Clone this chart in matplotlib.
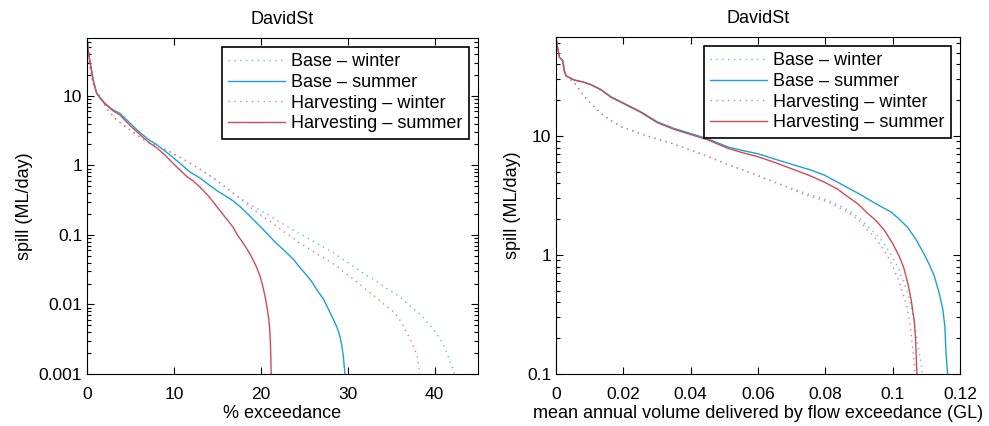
import matplotlib
matplotlib.use("Agg")
import matplotlib.pyplot as plt
import numpy as np
from matplotlib.ticker import LogLocator, NullFormatter

plt.rcParams['font.family'] = ['Liberation Sans', 'DejaVu Sans']
plt.rcParams['font.size'] = 12

# ---- Left panel: % exceedance vs spill ----
base_summer_x = [0, 0.15, 0.3, 0.5, 0.7, 1.1, 1.5, 2.0, 2.5, 3.0, 3.8, 4.5, 5.0, 5.8, 6.5, 7.2, 8.0, 9.0, 9.9, 10.8, 11.8, 13.0, 14.0, 15.0, 16.0, 16.8, 17.7, 18.5, 19.5, 20.7, 21.6, 22.5, 23.2, 23.8, 24.5, 25.2, 25.9, 26.5, 27.2, 27.8, 28.3, 28.8, 29.1, 29.3, 29.5, 29.6, 29.7]
base_summer_y = [68, 45, 33, 24, 17, 11, 9.5, 8.0, 7.0, 6.3, 5.6, 4.6, 4.0, 3.2, 2.7, 2.3, 2.0, 1.6, 1.3, 1.05, 0.81, 0.66, 0.53, 0.43, 0.36, 0.31, 0.25, 0.2, 0.15, 0.106, 0.08, 0.063, 0.052, 0.044, 0.034, 0.027, 0.021, 0.016, 0.012, 0.0085, 0.0063, 0.0046, 0.0035, 0.0027, 0.0018, 0.0013, 0.001]

harv_summer_x = [0, 0.15, 0.3, 0.5, 0.7, 1.1, 1.5, 2.0, 2.5, 3.0, 3.8, 4.5, 5.0, 5.8, 6.5, 7.2, 8.0, 9.0, 9.9, 10.7, 11.5, 12.2, 13.0, 14.0, 14.9, 15.9, 16.8, 17.3, 17.8, 18.3, 18.8, 19.4, 19.9, 20.2, 20.5, 20.7, 20.9, 21.0, 21.1, 21.15, 21.2]
harv_summer_y = [68, 45, 33, 24, 17, 11, 9.3, 7.8, 6.9, 6.1, 5.3, 4.3, 3.7, 3.0, 2.5, 2.1, 1.8, 1.4, 1.07, 0.86, 0.69, 0.6, 0.49, 0.36, 0.26, 0.18, 0.13, 0.1, 0.082, 0.066, 0.052, 0.037, 0.026, 0.019, 0.013, 0.0093, 0.0065, 0.0048, 0.003, 0.0018, 0.001]

base_winter_x = [0, 0.15, 0.3, 0.5, 0.7, 1.0, 1.5, 2.0, 2.5, 3.4, 4.2, 5.0, 5.8, 6.5, 7.2, 8.0, 9.2, 10.0, 11.0, 12.0, 13.0, 14.0, 15.0, 16.0, 16.8, 17.8, 18.8, 19.8, 20.7, 21.6, 22.5, 23.5, 24.5, 25.5, 26.5, 27.5, 28.4, 29.3, 30.3, 31.3, 32.2, 33.2, 34.2, 35.2, 36.1, 36.8, 37.5, 38.2, 38.8, 39.3, 39.8, 40.3, 40.7, 41.1, 41.5, 41.8, 42.1, 42.3]
base_winter_y = [68, 42, 28, 20, 15, 12, 9.7, 7.5, 6.0, 4.5, 3.8, 3.2, 2.7, 2.35, 2.1, 1.9, 1.66, 1.45, 1.25, 1.05, 0.88, 0.73, 0.6, 0.48, 0.4, 0.33, 0.27, 0.23, 0.2, 0.17, 0.145, 0.123, 0.104, 0.088, 0.075, 0.064, 0.055, 0.046, 0.038, 0.031, 0.026, 0.022, 0.018, 0.015, 0.0125, 0.0105, 0.0088, 0.0075, 0.0063, 0.0053, 0.0045, 0.0037, 0.0031, 0.0025, 0.0019, 0.0015, 0.0012, 0.001]

harv_winter_x = [0, 0.15, 0.3, 0.5, 0.7, 1.0, 1.5, 2.0, 2.5, 3.4, 4.2, 5.0, 5.8, 6.5, 7.2, 8.0, 9.2, 10.0, 11.0, 12.0, 13.0, 14.0, 15.0, 16.0, 16.8, 17.8, 18.8, 19.8, 20.7, 21.6, 22.5, 23.5, 24.5, 25.5, 26.5, 27.5, 28.4, 29.3, 30.3, 31.3, 32.2, 33.0, 33.8, 34.6, 35.4, 35.8, 36.2, 36.5, 36.8, 37.2, 37.5, 37.8, 38.0, 38.1, 38.2, 38.3]
harv_winter_y = [68, 42, 28, 20, 15, 12, 9.7, 7.5, 6.0, 4.5, 3.8, 3.2, 2.7, 2.35, 2.1, 1.9, 1.66, 1.45, 1.25, 1.05, 0.88, 0.73, 0.6, 0.48, 0.4, 0.32, 0.25, 0.2, 0.17, 0.14, 0.115, 0.095, 0.076, 0.064, 0.053, 0.045, 0.038, 0.031, 0.025, 0.02, 0.016, 0.0135, 0.011, 0.0092, 0.0076, 0.0065, 0.0055, 0.0046, 0.0039, 0.0032, 0.0026, 0.0021, 0.0018, 0.0015, 0.0012, 0.001]

# ---- Right panel: mean annual volume vs spill ----
rb_summer_x = [0, 0.0005, 0.001, 0.002, 0.0025, 0.003, 0.0055, 0.008, 0.0104, 0.0134, 0.0163, 0.0203, 0.0252, 0.030, 0.035, 0.040, 0.045, 0.051, 0.055, 0.060, 0.065, 0.0708, 0.0755, 0.0797, 0.085, 0.0906, 0.0950, 0.0995, 0.1020, 0.1045, 0.107, 0.1090, 0.1110, 0.1124, 0.1138, 0.1149, 0.1155, 0.1158, 0.1161, 0.1163]
rb_summer_y = [68, 55, 46, 43, 35, 32, 29.5, 28.5, 27, 24.6, 21.4, 18.8, 16, 13.2, 11.6, 10.5, 9.5, 8.1, 7.6, 7.1, 6.4, 5.7, 5.2, 4.7, 3.9, 3.2, 2.7, 2.3, 2.0, 1.7, 1.34, 1.06, 0.82, 0.66, 0.48, 0.35, 0.25, 0.16, 0.12, 0.1]

rh_summer_x = [0, 0.0005, 0.001, 0.002, 0.0025, 0.003, 0.0055, 0.008, 0.0104, 0.0134, 0.0163, 0.0203, 0.0252, 0.030, 0.035, 0.040, 0.045, 0.051, 0.055, 0.060, 0.065, 0.0708, 0.075, 0.0797, 0.0835, 0.0866, 0.0896, 0.0926, 0.0950, 0.0975, 0.1000, 0.102, 0.1033, 0.1045, 0.1055, 0.1064, 0.1068, 0.1070, 0.1072]
rh_summer_y = [68, 55, 46, 43, 35, 32, 29.5, 28.5, 27, 24.4, 21.2, 18.6, 15.8, 13.0, 11.4, 10.3, 9.3, 7.9, 7.3, 6.7, 6.0, 5.2, 4.7, 4.1, 3.6, 3.1, 2.7, 2.24, 1.95, 1.62, 1.25, 0.97, 0.78, 0.58, 0.42, 0.28, 0.2, 0.14, 0.1]

rb_winter_x = [0, 0.0005, 0.001, 0.002, 0.0025, 0.003, 0.0055, 0.0084, 0.011, 0.0134, 0.0163, 0.0193, 0.0262, 0.0342, 0.043, 0.053, 0.058, 0.0629, 0.068, 0.0728, 0.0807, 0.0866, 0.090, 0.0926, 0.095, 0.0975, 0.0995, 0.1015, 0.1030, 0.1045, 0.1055, 0.1064, 0.1072, 0.1079, 0.1085, 0.1088]
rb_winter_y = [68, 55, 46, 43, 35, 32, 28, 21.5, 18, 15.5, 13.5, 12, 10.2, 8.7, 7.1, 5.5, 4.9, 4.3, 3.8, 3.4, 2.9, 2.4, 2.05, 1.74, 1.5, 1.25, 1.0, 0.8, 0.62, 0.48, 0.37, 0.28, 0.2, 0.15, 0.12, 0.1]

rh_winter_x = [0, 0.0005, 0.001, 0.002, 0.0025, 0.003, 0.0055, 0.0084, 0.011, 0.0134, 0.0163, 0.0193, 0.0262, 0.0342, 0.043, 0.053, 0.058, 0.0629, 0.068, 0.0728, 0.0807, 0.0866, 0.0895, 0.0920, 0.0945, 0.0965, 0.0985, 0.1000, 0.1017, 0.1030, 0.1042, 0.1050, 0.1056, 0.1060, 0.1064, 0.1066]
rh_winter_y = [68, 55, 46, 43, 35, 32, 28, 21.5, 18, 15.5, 13.5, 12, 10.2, 8.7, 7.1, 5.5, 4.9, 4.3, 3.8, 3.3, 2.8, 2.3, 2.0, 1.7, 1.43, 1.2, 0.98, 0.8, 0.62, 0.48, 0.37, 0.28, 0.2, 0.16, 0.12, 0.1]

labels = ['Base \u2013 winter', 'Base \u2013 summer', 'Harvesting \u2013 winter', 'Harvesting \u2013 summer']
left_xticks = [0, 10, 20, 30, 40]
left_yticks = [0.001, 0.01, 0.1, 1, 10]
left_yticklabels = ['0.001', '0.01', '0.1', '1', '10']
right_xticks = [0, 0.02, 0.04, 0.06, 0.08, 0.1, 0.12]
right_xticklabels = ['0', '0.02', '0.04', '0.06', '0.08', '0.1', '0.12']
right_yticks = [0.1, 1, 10]
right_yticklabels = ['0.1', '1', '10']

BLUE = '#1aa0d8'
RED = '#d04a55'
BLUE_L = '#5cc0e8'
RED_L = '#e07f88'

fig = plt.figure(figsize=(9.89, 4.26), dpi=100)
axL = fig.add_axes([87/989, 1 - 374/426, (478-87)/989, (374-38)/426])
axR = fig.add_axes([556/989, 1 - 374/426, (960-556)/989, (374-37)/426])

dot = (0, (1, 3.2))

def draw(ax, bw, bs, hw, hs):
    ax.plot(*bw, color=BLUE_L, lw=1.0, ls=dot, label=labels[0])
    ax.plot(*bs, color=BLUE, lw=1.0, ls='-', label=labels[1])
    ax.plot(*hw, color=RED_L, lw=1.0, ls=dot, label=labels[2])
    ax.plot(*hs, color=RED, lw=1.0, ls='-', label=labels[3])
    ax.set_yscale('log')
    ax.tick_params(which='both', direction='in', top=True, right=True, width=0.8, labelsize=12.5)
    ax.tick_params(which='major', length=5)
    ax.tick_params(which='minor', length=3)
    ax.tick_params(axis='x', which='major', pad=9.5)
    ax.yaxis.set_minor_locator(LogLocator(base=10, subs=np.arange(2, 10)))
    ax.yaxis.set_minor_formatter(NullFormatter())
    for s in ax.spines.values():
        s.set_linewidth(0.8)
    ax.set_title('DavidSt', fontsize=13, pad=10)
    ax.set_ylabel('spill (ML/day)', fontsize=13, labelpad=4)
    leg = ax.legend(loc='upper right', fancybox=False, framealpha=1, edgecolor='black',
                    handlelength=3.15, handletextpad=0.35, borderpad=0.35, labelspacing=0.2,
                    borderaxespad=0.5, fontsize=13)
    leg.get_frame().set_linewidth(1.2)

draw(axL, (base_winter_x, base_winter_y), (base_summer_x, base_summer_y),
     (harv_winter_x, harv_winter_y), (harv_summer_x, harv_summer_y))
axL.set_xlim(0, 45)
axL.set_ylim(0.001, 68)
axL.set_xticks(left_xticks)
axL.set_yticks(left_yticks)
axL.set_yticklabels(left_yticklabels)
axL.set_xlabel('% exceedance', fontsize=13, labelpad=2)

draw(axR, (rb_winter_x, rb_winter_y), (rb_summer_x, rb_summer_y),
     (rh_winter_x, rh_winter_y), (rh_summer_x, rh_summer_y))
axR.set_xlim(0, 0.12)
axR.set_ylim(0.1, 68)
axR.set_xticks(right_xticks)
axR.set_xticklabels(right_xticklabels)
axR.set_yticks(right_yticks)
axR.set_yticklabels(right_yticklabels)
axR.set_xlabel('mean annual volume delivered by flow exceedance (GL)', fontsize=13, labelpad=2)

fig.savefig('out.png', dpi=100)
